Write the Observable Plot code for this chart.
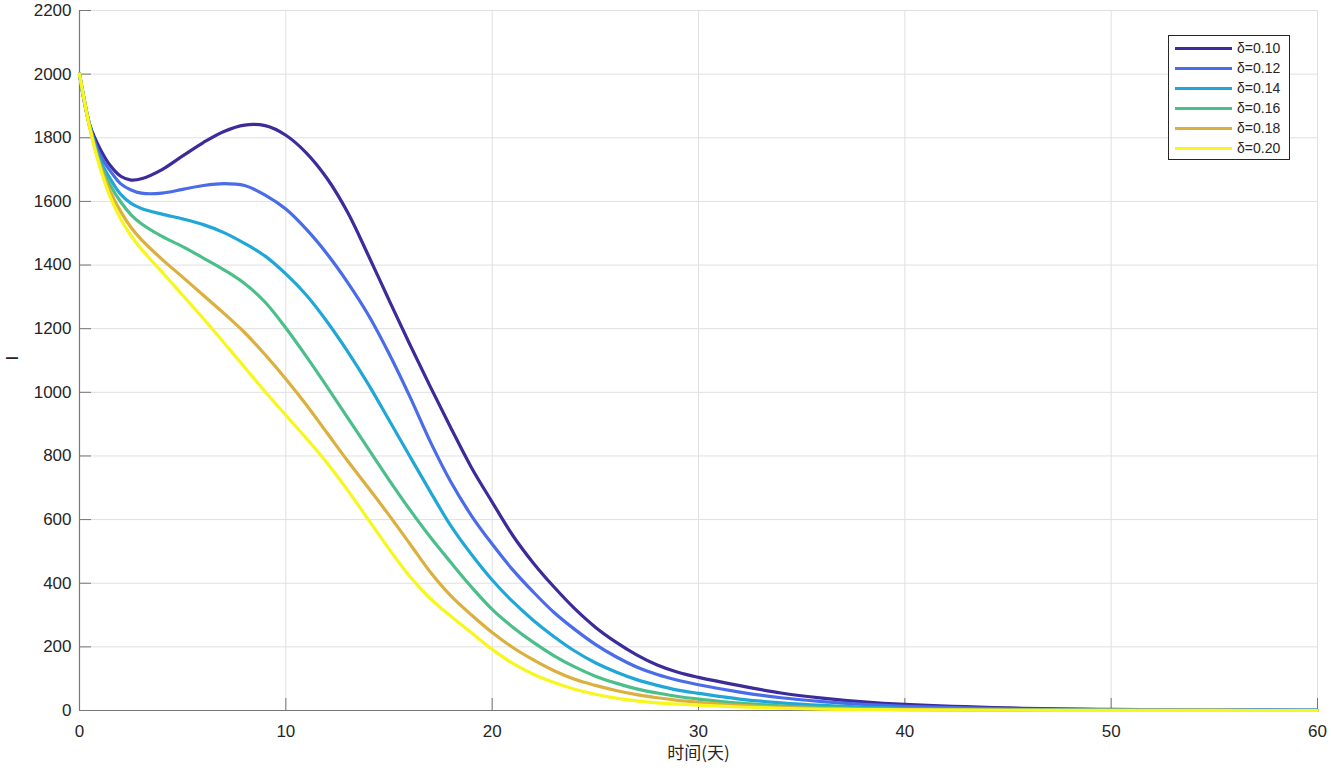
<!DOCTYPE html>
<html><head><meta charset="utf-8">
<script src="https://cdn.jsdelivr.net/npm/d3@7"></script>
<script src="https://cdn.jsdelivr.net/npm/@observablehq/plot@0.6"></script>
<style>body{margin:0;background:#fff} #wrap{position:relative;width:1331px;height:770px}</style>
</head><body><div id="wrap"></div>
<script>
const days = [0,0.5,1,1.5,2,2.5,3,4,5,6,7,8,9,10,11,12,13,14,15,16,17,18,19,20,21,22,23,24,25,26,27,28,29,30,32,34,36,38,40,45,50,55,60];
const delta010 = [2000,1840,1765,1712,1679,1667,1671,1700,1743,1785,1820,1840,1838,1808,1752,1672,1565,1430,1290,1152,1018,888,763,655,550,463,388,320,262,215,175,143,120,104,78,55,39,27,19,8,3.5,1.5,0.7];
const delta012 = [2000,1838,1745,1695,1655,1636,1626,1626,1638,1650,1656,1650,1620,1576,1512,1435,1345,1243,1122,988,845,718,612,523,442,372,308,255,208,169,137,113,95,81,58,40,28,19,13,5,2,1,0.4];
const delta014 = [2000,1836,1730,1670,1622,1594,1578,1560,1545,1527,1502,1468,1428,1372,1305,1222,1128,1025,913,800,688,580,490,410,342,283,232,187,150,121,97,79,64,54,36,24,16,11,7,3,1,0.5,0.2];
const delta016 = [2000,1834,1720,1650,1598,1558,1530,1490,1458,1422,1385,1342,1283,1202,1112,1017,920,822,725,632,545,465,388,318,262,214,172,137,108,86,68,55,44,36,23,15,10,6,4,1.5,0.6,0.2,0.1];
const delta018 = [2000,1832,1712,1630,1568,1518,1480,1418,1362,1305,1248,1188,1118,1042,960,872,784,700,614,525,435,360,300,245,198,159,125,98,79,63,50,40,32,26,16,10,6,4,2.5,1,0.4,0.1,0];
const delta020 = [2000,1830,1705,1612,1545,1492,1450,1378,1305,1232,1156,1079,1002,928,855,778,692,600,508,422,352,296,244,192,148,114,88,67,51,39,30,24,20,17,11,7,4,3,2,0.8,0.3,0.1,0];
const deltaLabels = ["δ=0.10","δ=0.12","δ=0.14","δ=0.16","δ=0.18","δ=0.20"];
const colors = ["#3b2b9b","#4a6ce9","#20a7d8","#4bbf8a","#dcb03e","#f7f71e"];
const xTicks = [0,10,20,30,40,50,60];
const yTicks = [0,200,400,600,800,1000,1200,1400,1600,1800,2000,2200];
const xLabel = "时间(天)";
const yLabel = "I";

const series = [delta010,delta012,delta014,delta016,delta018,delta020];
const rows = series.flatMap((vals,i)=>vals.map((v,j)=>({t:days[j], I:v, s:deltaLabels[i]})));

const W=1331,H=770,mL=79,mR=14,mT=10,mB=60;
const fw=W-mL-mR, fh=H-mT-mB;
const axisColor="#777777", gridColor="#e0e0e0", textColor="#262626";

const chart = Plot.plot({
  width:W, height:H, marginLeft:mL, marginRight:mR, marginTop:mT, marginBottom:mB,
  style:{fontFamily:'"Liberation Sans", Arial, sans-serif', fontSize:"17px", color:textColor, background:"#fff", overflow:"visible"},
  x:{domain:[0,60]},
  y:{domain:[0,2200]},
  color:{domain:deltaLabels, range:colors},
  marks:[
    Plot.gridX(xTicks,{stroke:gridColor, strokeOpacity:1}),
    Plot.gridY(yTicks,{stroke:gridColor, strokeOpacity:1}),
    Plot.ruleY([0],{stroke:axisColor, strokeWidth:1.2}),
    Plot.ruleX([0],{stroke:axisColor, strokeWidth:1.2}),
    Plot.tickX(xTicks,{x:d=>d, stroke:axisColor, insetTop:fh-12}),
    Plot.tickY(yTicks,{y:d=>d, stroke:axisColor, insetRight:fw-12}),
    Plot.line(rows,{x:"t", y:"I", z:"s", stroke:"s", strokeWidth:3.2, curve:"catmull-rom"}),
    Plot.axisX({ticks:xTicks, tickSize:0, tickPadding:14, label:null, fill:textColor, tickFormat:d=>String(d)}),
    Plot.axisY({ticks:yTicks, tickSize:0, tickPadding:8, label:null, fill:textColor, tickFormat:d=>String(d)}),
    Plot.text([xLabel],{frameAnchor:"bottom", dy:48, fontFamily:'"Noto Sans CJK SC", sans-serif', fontSize:17, fill:textColor}),
    Plot.text([yLabel],{frameAnchor:"left", dx:-67, rotate:-90, fontSize:17, fill:textColor})
  ]
});

// legend inside the plot svg
const svg = d3.select(chart);
const lg = svg.append("g").attr("class","legend").attr("text-anchor","start");
const lx=1168.5, ly=35.5, lw=121, lh=124;
lg.append("rect").attr("x",lx).attr("y",ly).attr("width",lw).attr("height",lh)
  .attr("fill","#fff").attr("stroke","#262626").attr("stroke-width",1);
deltaLabels.forEach((lab,i)=>{
  const yy = 48.5 + 20*i;
  lg.append("line").attr("x1",1175).attr("x2",1232).attr("y1",yy).attr("y2",yy)
    .attr("stroke",colors[i]).attr("stroke-width",3);
  lg.append("text").attr("x",1237).attr("y",yy).attr("dy","0.35em")
    .attr("text-anchor","start")
    .attr("font-size",14).attr("fill",textColor)
    .attr("font-family",'"Liberation Sans", Arial, sans-serif').text(lab);
});

document.getElementById("wrap").appendChild(chart);
</script>
</body></html>
